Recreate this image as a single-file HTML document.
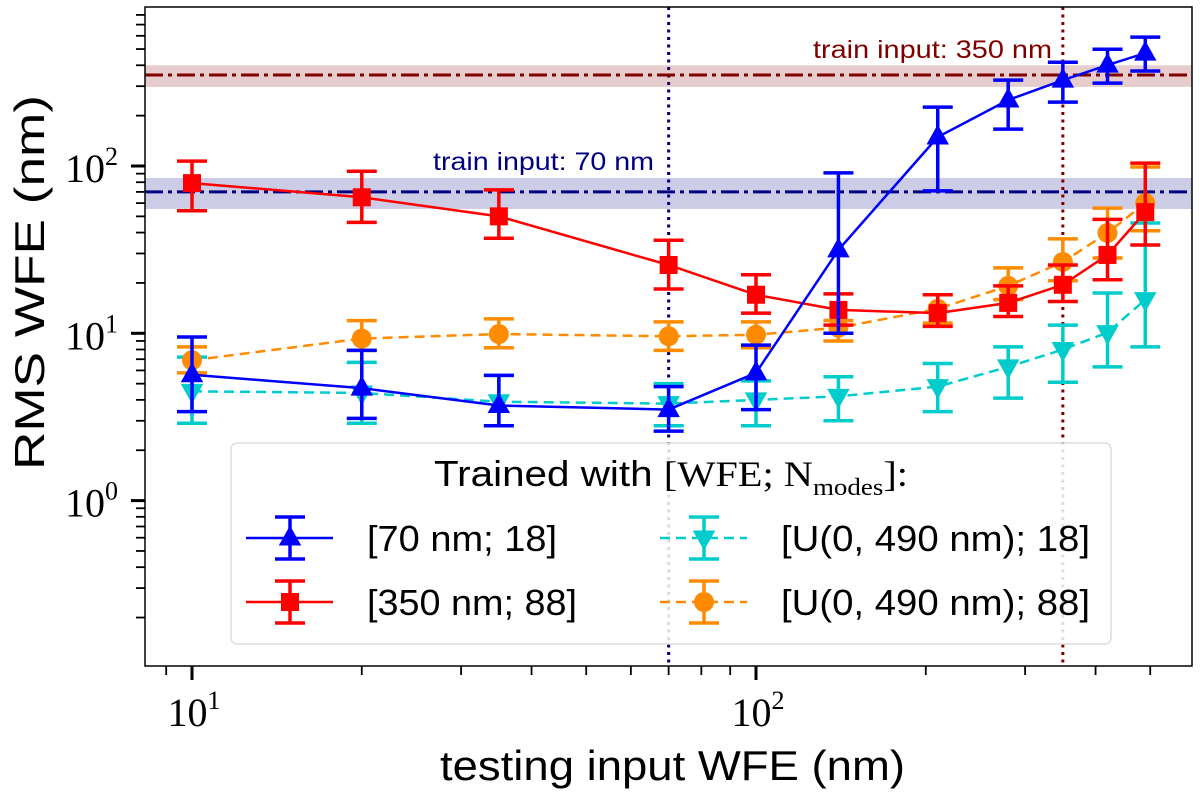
<!DOCTYPE html>
<html><head><meta charset="utf-8"><style>
html,body{margin:0;padding:0;background:#fff;}
svg{display:block;}
</style></head><body>
<svg id="chart" width="1200" height="795" xmlns="http://www.w3.org/2000/svg"></svg>
<script>
const xValues = [10, 20, 35, 70, 100, 140, 210, 280, 350, 420, 490];
const blueVals = [5.65, 4.7, 3.7, 3.5, 5.8, 31.5, 149, 248, 326, 401, 473];
const blueLo = [3.4, 3.1, 2.8, 2.6, 3.5, 10, 71, 166, 241, 313, 370];
const blueHi = [9.5, 7.9, 5.6, 4.8, 8.5, 91, 225, 326, 417, 499, 589];
const redVals = [79, 65, 50, 25.6, 17, 13.8, 13.2, 15.2, 19.5, 29.4, 53];
const redLo = [54, 46, 37, 18.4, 13.2, 11.2, 11, 12.6, 15.5, 20.9, 33.7];
const redHi = [107, 93, 72, 36, 22.4, 17.2, 17, 19.2, 25.6, 48, 104];
const cyanVals = [4.5, 4.4, 3.9, 3.8, 4.0, 4.2, 4.8, 6.3, 8.0, 10.1, 15.9];
const cyanLo = [2.9, 2.9, 2.8, 2.8, 2.8, 3.0, 3.4, 4.1, 5.1, 6.3, 8.3];
const cyanHi = [7.2, 6.7, 5.6, 5.0, 5.2, 5.5, 6.6, 8.3, 11.2, 17.4, 45.6];
const orangeVals = [6.9, 9.3, 9.9, 9.6, 9.8, 10.8, 14.0, 19.2, 26.7, 39.8, 60];
const orangeLo = [5.8, 7.9, 8.2, 7.9, 8.2, 9.0, 11.5, 15.9, 20.6, 28.2, 41];
const orangeHi = [8.3, 11.9, 12.2, 11.7, 11.7, 11.9, 17, 24.6, 36.7, 56, 98.6];
const trainLines = [70, 350];
const trainBandLo = [55.4, 297];
const trainBandHi = [84.8, 400];
const yTickVals = [1, 10, 100];
const yTickLabels = ["0", "1", "2"];
const xTickVals = [10, 100];
const xTickLabels = ["1", "2"];

const NS = "http://www.w3.org/2000/svg";
const svg = document.getElementById('chart');
const L = 145, R = 1192, T = 7, B = 666;
function X(v){ return 192 + (Math.log10(v) - 1) * 564; }
function Y(v){ return 166 - (Math.log10(v) - 2) * 167.3; }
function el(tag, attrs, parent){
  const e = document.createElementNS(NS, tag);
  for (const k in attrs) e.setAttribute(k, attrs[k]);
  (parent || svg).appendChild(e);
  return e;
}
const defs = el('defs', {});
const cp = el('clipPath', {id: 'clip'}, defs);
el('rect', {x: L, y: T, width: R - L, height: B - T}, cp);
const plot = el('g', {'clip-path': 'url(#clip)'});



const refColors = ['#000080', '#800000'];
const bandColors = ['rgba(0,0,128,0.2)', 'rgba(128,0,0,0.2)'];
trainLines.forEach((v, i) => {
  const b = el('rect', {x: L, width: R - L, y: Y(trainBandHi[i]), height: Y(trainBandLo[i]) - Y(trainBandHi[i]), fill: bandColors[i]}, plot);
  
  
  const h = el('line', {x1: L, x2: R, y1: Y(v), y2: Y(v), stroke: refColors[i], 'stroke-width': 3, 'stroke-dasharray': '18,5,4,5'}, plot);
  
  
  const vl = el('line', {x1: X(v), x2: X(v), y1: T, y2: B, stroke: refColors[i], 'stroke-width': 3, 'stroke-dasharray': '3,4.5'}, plot);
  
  
});

function marker(g, type, cx, cy, color, s){
  let m;
  if (type === 'tri-up') m = el('polygon', {points: `${cx},${cy - s} ${cx - s * 0.9},${cy + s * 0.6} ${cx + s * 0.9},${cy + s * 0.6}`, fill: color}, g);
  else if (type === 'tri-down') m = el('polygon', {points: `${cx},${cy + s} ${cx - s * 0.9},${cy - s * 0.6} ${cx + s * 0.9},${cy - s * 0.6}`, fill: color}, g);
  else if (type === 'square') m = el('rect', {x: cx - s * 0.72, y: cy - s * 0.72, width: s * 1.44, height: s * 1.44, fill: color}, g);
  else m = el('circle', {cx: cx, cy: cy, r: s * 0.8, fill: color}, g);
  return m;
}
const series = [
  {name: 'series-70nm-18', vals: blueVals, lo: blueLo, hi: blueHi, color: '#0000ff', mk: 'tri-up', dash: ''},
  {name: 'series-350nm-88', vals: redVals, lo: redLo, hi: redHi, color: '#ff0000', mk: 'square', dash: ''},
  {name: 'series-uniform-18', vals: cyanVals, lo: cyanLo, hi: cyanHi, color: '#00cccc', mk: 'tri-down', dash: '10,6'},
  {name: 'series-uniform-88', vals: orangeVals, lo: orangeLo, hi: orangeHi, color: '#ff8c00', mk: 'circle', dash: '10,6'}
];
const drawOrder = [2, 3, 1, 0];
drawOrder.forEach(si => {
  const s = series[si];
  const g = el('g', {}, plot);
  
  
  const pts = xValues.map((x, i) => X(x) + ',' + Y(s.vals[i])).join(' ');
  el('polyline', {points: pts, fill: 'none', stroke: s.color, 'stroke-width': 2.5, 'stroke-dasharray': s.dash}, g);
  xValues.forEach((x, i) => {
    const cx = X(x), y1 = Y(s.hi[i]), y2 = Y(s.lo[i]);
    const eb = el('g', {stroke: s.color, 'stroke-width': 3.5}, g);
    
    
    el('line', {x1: cx, x2: cx, y1: y1, y2: y2}, eb);
    el('line', {x1: cx - 15, x2: cx + 15, y1: y1, y2: y1}, eb);
    el('line', {x1: cx - 15, x2: cx + 15, y1: y2, y2: y2}, eb);
    const m = marker(g, s.mk, cx, Y(s.vals[i]), s.color, 12.5);
    
    
  });
});

const a1 = el('text', {x: 433, y: 170, textLength: 221, lengthAdjust: 'spacingAndGlyphs', fill: '#000080', 'font-size': 25, 'font-family': 'Liberation Sans, sans-serif'});
a1.textContent = 'train input: 70 nm';


const a2 = el('text', {x: 813, y: 58, textLength: 239, lengthAdjust: 'spacingAndGlyphs', fill: '#800000', 'font-size': 25, 'font-family': 'Liberation Sans, sans-serif'});
a2.textContent = 'train input: 350 nm';



const fr = el('rect', {x: L, y: T, width: R - L, height: B - T, fill: 'none', stroke: '#000', 'stroke-width': 1.5});



const yAxis = el('g', {stroke: '#000', 'stroke-width': 1.5});


for (let d = -1; d <= 2; d++) {
  for (let k = 1; k <= 9; k++) {
    const v = k * Math.pow(10, d);
    const y = Y(v);
    if (y < T - 0.5 || y > B + 0.5) continue;
    el('line', {x1: L, x2: L - (k === 1 ? 14 : 9), y1: y, y2: y, 'stroke-width': k === 1 ? 3 : 1.8}, yAxis);
  }
}
yTickVals.forEach((v, i) => {
  const t = el('text', {x: 118, y: Y(v) + 16, 'text-anchor': 'end', 'font-size': 40, 'font-family': 'Liberation Serif, serif', fill: '#000', stroke: 'none'});
  t.textContent = '10';
  const sp = el('tspan', {'font-size': 26, dy: -17}, t);
  sp.textContent = yTickLabels[i];
  
  
});
const xAxis = el('g', {stroke: '#000', 'stroke-width': 1.5});


for (let d = 0; d <= 2; d++) {
  for (let k = 1; k <= 9; k++) {
    const v = k * Math.pow(10, d);
    const x = X(v);
    if (x < L - 0.5 || x > R + 0.5) continue;
    el('line', {x1: x, x2: x, y1: B, y2: B + (k === 1 ? 14 : 9), 'stroke-width': k === 1 ? 3 : 1.8}, xAxis);
  }
}
xTickVals.forEach((v, i) => {
  const t = el('text', {x: X(v) + 2, y: 726, 'text-anchor': 'middle', 'font-size': 40, 'font-family': 'Liberation Serif, serif', fill: '#000', stroke: 'none'});
  t.textContent = '10';
  const sp = el('tspan', {'font-size': 26, dy: -17}, t);
  sp.textContent = xTickLabels[i];
  
  
});
const xl = el('text', {x: 440, y: 780, textLength: 465, lengthAdjust: 'spacingAndGlyphs', 'font-size': 42, 'font-family': 'Liberation Sans, sans-serif', fill: '#000'});
xl.textContent = 'testing input WFE (nm)';


const yl = el('text', {x: 0, y: 0, transform: 'translate(44,470) rotate(-90)', textLength: 375, lengthAdjust: 'spacingAndGlyphs', 'font-size': 42, 'font-family': 'Liberation Sans, sans-serif', fill: '#000'});
yl.textContent = 'RMS WFE (nm)';



const lg = el('g', {});


el('rect', {x: 231, y: 443, width: 880, height: 201, rx: 6, fill: 'rgba(255,255,255,0.85)', stroke: '#ddd', 'stroke-width': 1.5}, lg);
const lt = el('text', {x: 434, y: 486, textLength: 474, lengthAdjust: 'spacingAndGlyphs', 'font-size': 36, 'font-family': 'Liberation Sans, sans-serif', fill: '#000'}, lg);


lt.appendChild(document.createTextNode('Trained with '));
const s1 = el('tspan', {'font-family': 'Liberation Serif, serif'}, lt); s1.textContent = '[WFE; N';
const s2 = el('tspan', {'font-family': 'Liberation Serif, serif', 'font-size': 24, dy: 9}, lt); s2.textContent = 'modes';
const s3 = el('tspan', {'font-family': 'Liberation Serif, serif', dy: -9}, lt); s3.textContent = ']:';
const legItems = [
  {si: 0, x: 246, y: 538, label: '[70 nm; 18]', w: 190},
  {si: 1, x: 246, y: 602, label: '[350 nm; 88]', w: 210},
  {si: 2, x: 660, y: 538, label: '[U(0, 490 nm); 18]', w: 309},
  {si: 3, x: 660, y: 602, label: '[U(0, 490 nm); 88]', w: 309}
];
legItems.forEach(it => {
  const s = series[it.si];
  const g = el('g', {}, lg);
  
  
  el('line', {x1: it.x, x2: it.x + 87, y1: it.y, y2: it.y, stroke: s.color, 'stroke-width': 2.5, 'stroke-dasharray': s.dash}, g);
  const cx = it.x + 44;
  el('line', {x1: cx, x2: cx, y1: it.y - 21, y2: it.y + 21, stroke: s.color, 'stroke-width': 3.5}, g);
  el('line', {x1: cx - 15, x2: cx + 15, y1: it.y - 21, y2: it.y - 21, stroke: s.color, 'stroke-width': 3.5}, g);
  el('line', {x1: cx - 15, x2: cx + 15, y1: it.y + 21, y2: it.y + 21, stroke: s.color, 'stroke-width': 3.5}, g);
  marker(g, s.mk, cx, it.y, s.color, 12.5);
  const t = el('text', {x: it.x + 121, y: it.y + 13, textLength: it.w, lengthAdjust: 'spacingAndGlyphs', 'font-size': 36, 'font-family': 'Liberation Sans, sans-serif', fill: '#000'}, g);
  t.textContent = it.label;
});
</script>
</body></html>
